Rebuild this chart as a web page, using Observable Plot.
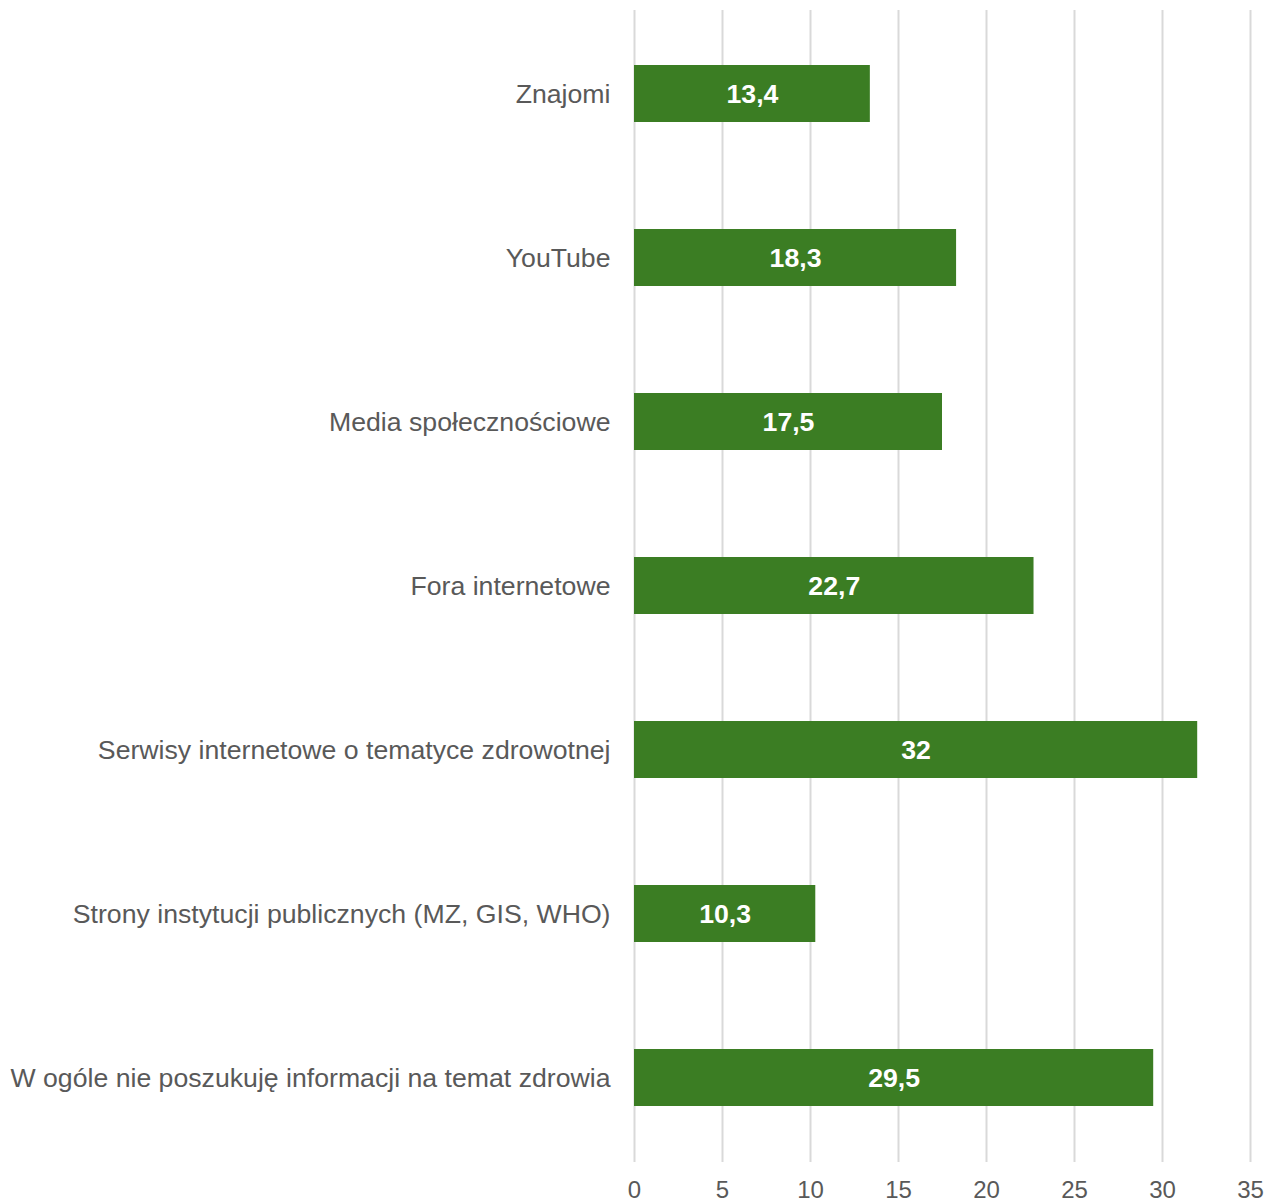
<!DOCTYPE html>
<html>
<head>
<meta charset="utf-8">
<script src="https://cdn.jsdelivr.net/npm/d3@7"></script>
<script src="https://cdn.jsdelivr.net/npm/@observablehq/plot@0.6"></script>
<style>
  html, body { margin: 0; padding: 0; background: #fff; }
  #chart { width: 1265px; height: 1200px; }
</style>
</head>
<body>
<div id="chart"></div>
<script>
const categories = [
  "Znajomi",
  "YouTube",
  "Media społecznościowe",
  "Fora internetowe",
  "Serwisy internetowe o tematyce zdrowotnej",
  "Strony instytucji publicznych (MZ, GIS, WHO)",
  "W ogóle nie poszukuję informacji na temat zdrowia"
];
const values = [13.4, 18.3, 17.5, 22.7, 32, 10.3, 29.5];
const xTicks = [0, 5, 10, 15, 20, 25, 30, 35];

const data = categories.map((c, i) => ({category: c, value: values[i]}));
const fmt = v => String(v).replace(".", ",");

const chart = Plot.plot({
  width: 1265,
  height: 1200,
  marginLeft: 634,
  marginRight: 15,
  marginTop: 10,
  marginBottom: 38,
  style: {fontFamily: "'Liberation Sans', Arial, sans-serif", background: "#fff", overflow: "visible"},
  x: {domain: [0, 35], ticks: xTicks, label: null},
  y: {domain: categories, label: null, paddingInner: 0.65, paddingOuter: 0.33},
  marks: [
    Plot.gridX(xTicks, {stroke: "#d9d9d9", strokeOpacity: 1, strokeWidth: 2}),
    Plot.axisX({ticks: xTicks, tickSize: 0, tickPadding: 18, fontSize: 24, fill: "#595959", label: null}),
    Plot.axisY({tickSize: 0, tickPadding: 24, fontSize: 26.67, fill: "#595959", label: null}),
    Plot.barX(data, {x: "value", y: "category", fill: "#3b7d23"}),
    Plot.text(data, {x: d => d.value / 2, y: "category", text: d => fmt(d.value), fill: "#fff", fontSize: 26.67, fontWeight: "bold"})
  ]
});
document.getElementById("chart").appendChild(chart);
</script>
</body>
</html>
